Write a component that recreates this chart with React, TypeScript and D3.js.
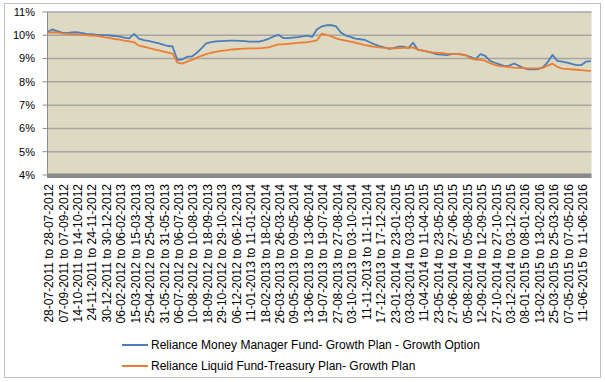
import React from "react";
import * as d3 from "d3";

const periodLabels: string[] = [
  "28-07-2011 to 28-07-2012", "07-09-2011 to 07-09-2012", "14-10-2011 to 14-10-2012",
  "24-11-2011 to 24-11-2012", "30-12-2011 to 30-12-2012", "06-02-2012 to 06-02-2013",
  "15-03-2012 to 15-03-2013", "25-04-2012 to 25-04-2013", "31-05-2012 to 31-05-2013",
  "06-07-2012 to 06-07-2013", "10-08-2012 to 10-08-2013", "18-09-2012 to 18-09-2013",
  "29-10-2012 to 29-10-2013", "06-12-2012 to 06-12-2013", "11-01-2013 to 11-01-2014",
  "18-02-2013 to 18-02-2014", "26-03-2013 to 26-03-2014", "09-05-2013 to 09-05-2014",
  "13-06-2013 to 13-06-2014", "19-07-2013 to 19-07-2014", "27-08-2013 to 27-08-2014",
  "03-10-2013 to 03-10-2014", "11-11-2013 to 11-11-2014", "17-12-2013 to 17-12-2014",
  "23-01-2014 to 23-01-2015", "03-03-2014 to 03-03-2015", "11-04-2014 to 11-04-2015",
  "23-05-2014 to 23-05-2015", "27-06-2014 to 27-06-2015", "05-08-2014 to 05-08-2015",
  "12-09-2014 to 12-09-2015", "27-10-2014 to 27-10-2015", "03-12-2014 to 03-12-2015",
  "08-01-2015 to 08-01-2016", "13-02-2015 to 13-02-2016", "25-03-2015 to 25-03-2016",
  "07-05-2015 to 07-05-2016", "11-06-2015 to 11-06-2016",
];

// rolling one-year returns (%), three readings per label period
const moneyManagerReturns: number[] = [
  10.15, 10.25, 10.18, 10.11, 10.09, 10.12, 10.13, 10.10, 10.06, 10.05,
  10.03, 10.02, 10.01, 9.99, 9.97, 9.94, 9.90, 9.87, 10.06, 9.86,
  9.79, 9.76, 9.71, 9.66, 9.60, 9.54, 9.52, 8.94, 8.96, 9.08,
  9.09, 9.24, 9.44, 9.65, 9.71, 9.74, 9.75, 9.76, 9.77, 9.77,
  9.76, 9.75, 9.73, 9.73, 9.73, 9.78, 9.85, 9.95, 10.02, 9.88,
  9.88, 9.90, 9.92, 9.95, 9.99, 9.93, 10.25, 10.38, 10.43, 10.44,
  10.38, 10.12, 9.99, 9.93, 9.86, 9.83, 9.80, 9.70, 9.61, 9.54,
  9.48, 9.42, 9.45, 9.51, 9.51, 9.45, 9.68, 9.38, 9.34, 9.30,
  9.24, 9.18, 9.17, 9.15, 9.19, 9.20, 9.18, 9.14, 9.06, 8.98,
  9.19, 9.12, 8.90, 8.82, 8.75, 8.68, 8.70, 8.79, 8.69, 8.59,
  8.54, 8.54, 8.55, 8.62, 8.85, 9.16, 8.90, 8.87, 8.83, 8.77,
  8.72, 8.72, 8.87, 8.89,
];

const liquidFundReturns: number[] = [
  10.11, 10.13, 10.12, 10.08, 10.06, 10.05, 10.04, 10.02, 10.01, 9.99,
  9.98, 9.95, 9.91, 9.88, 9.84, 9.81, 9.77, 9.74, 9.70, 9.56,
  9.51, 9.46, 9.40, 9.36, 9.31, 9.26, 9.21, 8.83, 8.78, 8.87,
  8.93, 9.04, 9.12, 9.19, 9.25, 9.29, 9.33, 9.35, 9.38, 9.40,
  9.42, 9.43, 9.44, 9.44, 9.44, 9.46, 9.48, 9.55, 9.61, 9.61,
  9.63, 9.65, 9.67, 9.69, 9.71, 9.74, 9.78, 10.07, 10.02, 9.95,
  9.87, 9.81, 9.77, 9.73, 9.68, 9.63, 9.58, 9.54, 9.50, 9.48,
  9.46, 9.45, 9.44, 9.45, 9.46, 9.47, 9.48, 9.38, 9.34, 9.30,
  9.27, 9.25, 9.23, 9.21, 9.20, 9.19, 9.18, 9.14, 9.00, 8.96,
  8.95, 8.90, 8.80, 8.73, 8.68, 8.66, 8.63, 8.61, 8.60, 8.59,
  8.58, 8.58, 8.58, 8.60, 8.70, 8.78, 8.64, 8.57, 8.56, 8.54,
  8.52, 8.50, 8.48, 8.47,
];

const seriesNames: string[] = [
  "Reliance Money Manager Fund- Growth Plan - Growth Option",
  "Reliance Liquid Fund-Treasury Plan- Growth Plan",
];
const seriesColors: string[] = ["#4A7EBB", "#ED7D31"];
const yTicks: number[] = [4, 5, 6, 7, 8, 9, 10, 11];
const READINGS_PER_PERIOD = 3;

export default function App() {
  const W = 605;
  const H = 382;
  const plot = { left: 47.5, right: 591.5, top: 12, bottom: 175 };
  const x = d3.scaleLinear().domain([0, 37.7]).range([plot.left, plot.right]);
  const y = d3.scaleLinear().domain([4, 11]).range([plot.bottom, plot.top]);
  const line = d3
    .line<number>()
    .x((_, i) => x(i / READINGS_PER_PERIOD))
    .y((d) => y(d));
  const series = [moneyManagerReturns, liquidFundReturns];
  const font = "'Liberation Sans', Arial, sans-serif";

  return (
    <svg
      width={W}
      height={H}
      style={{ position: "fixed", left: 0, top: 0, background: "#fff" }}
      fontFamily={font}
    >
      <rect x={4.5} y={3.5} width={596} height={374} fill="#fff" stroke="#BFBFBF" />
      <rect
        x={plot.left}
        y={plot.top}
        width={plot.right - plot.left}
        height={plot.bottom - plot.top}
        fill="#DDD9C3"
      />
      {yTicks.map((t) => (
        <g key={t}>
          {t > 4 && (
            <line x1={plot.left} x2={plot.right} y1={y(t)} y2={y(t)} stroke="#A6A6A6" strokeWidth={1.5} />
          )}
          <line x1={plot.left - 5} x2={plot.left} y1={y(t)} y2={y(t)} stroke="#8C8C8C" />
          <text x={35} y={y(t)} dy="0.35em" textAnchor="end" fontSize={11} fill="#000">
            {t}%
          </text>
        </g>
      ))}
      <rect x={plot.left} y={plot.bottom - 1.5} width={plot.right - plot.left} height={4.5} fill="#8A8A8A" />
      <line x1={plot.left} x2={plot.left} y1={plot.top} y2={plot.bottom + 3} stroke="#8C8C8C" />
      {series.map((s, k) => (
        <path key={k} d={line(s) || ""} fill="none" stroke={seriesColors[k]} strokeWidth={1.8} strokeLinejoin="round" />
      ))}
      {periodLabels.map((lab, i) => {
        const px = x(i) + 1.5;
        const py = 184;
        return (
          <text
            key={lab}
            x={px}
            y={py}
            dy="0.35em"
            textAnchor="end"
            fontSize={12}
            fill="#000"
            transform={`rotate(-90 ${px} ${py})`}
          >
            {lab}
          </text>
        );
      })}
      {seriesNames.map((n, k) => {
        const ly = 345 + k * 21;
        return (
          <g key={n}>
            <line x1={122} x2={148} y1={ly} y2={ly} stroke={seriesColors[k]} strokeWidth={2} />
            <text x={151} y={ly} dy="0.35em" fontSize={12} fill="#000">
              {n}
            </text>
          </g>
        );
      })}
    </svg>
  );
}
